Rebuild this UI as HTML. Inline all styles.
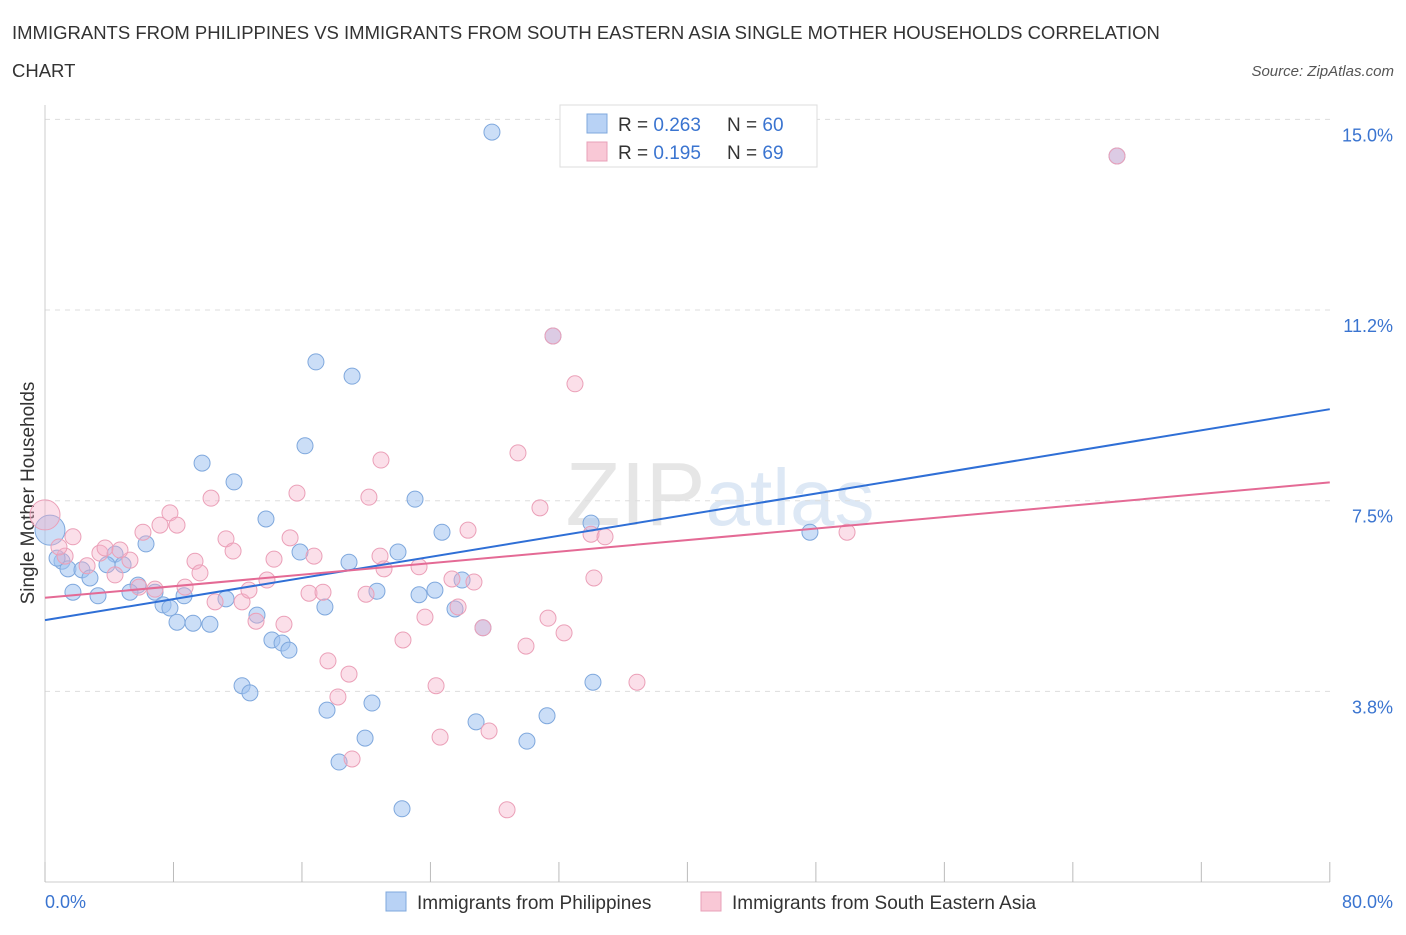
<!DOCTYPE html>
<html><head><meta charset="utf-8"><style>
body{margin:0;background:#fff;font-family:"Liberation Sans",sans-serif;}
svg text{font-family:"Liberation Sans",sans-serif;}
</style></head><body>
<svg width="1406" height="930" viewBox="0 0 1406 930" xmlns="http://www.w3.org/2000/svg">
<text x="12" y="39" font-size="18.5" fill="#333">IMMIGRANTS FROM PHILIPPINES VS IMMIGRANTS FROM SOUTH EASTERN ASIA SINGLE MOTHER HOUSEHOLDS CORRELATION</text>
<text x="12" y="77" font-size="18.5" fill="#333">CHART</text>
<text x="1394" y="76" font-size="15" fill="#555" font-style="italic" text-anchor="end">Source: ZipAtlas.com</text>
<text x="720" y="525" font-size="90" fill="#e6e6e6" text-anchor="middle" font-family="Liberation Serif">ZIP<tspan fill="#dde8f5" font-family="Liberation Sans" font-size="80">atlas</tspan></text>
<g id="grid"></g>
<g id="axes"></g>
<text x="34" y="493" font-size="19" fill="#333" text-anchor="middle" transform="rotate(-90 34 493)">Single Mother Households</text>
<g id="pts"></g>
<g id="trend"></g>
<g>
<rect x="560" y="105" width="257" height="62" fill="#fff" stroke="#ddd"/>
<rect x="587" y="114" width="20" height="19" fill="#b8d2f5" stroke="#7fa8dd"/>
<rect x="587" y="142" width="20" height="19" fill="#f9c8d6" stroke="#e8a0b8"/>
<text x="618" y="131" font-size="19" fill="#333">R = <tspan fill="#3a74d0">0.263</tspan><tspan x="727">N = </tspan><tspan fill="#3a74d0">60</tspan></text>
<text x="618" y="159" font-size="19" fill="#333">R = <tspan fill="#3a74d0"> 0.195</tspan><tspan x="727">N = </tspan><tspan fill="#3a74d0">69</tspan></text>
</g>
<g>
<rect x="386" y="892" width="20" height="19" fill="#b8d2f5" stroke="#7fa8dd"/>
<text x="417" y="909" font-size="19" fill="#333">Immigrants from Philippines</text>
<rect x="701" y="892" width="20" height="19" fill="#f9c8d6" stroke="#e8a0b8"/>
<text x="732" y="909" font-size="19" fill="#333">Immigrants from South Eastern Asia</text>
</g>
</svg>
<script>
const yTicks=[15.0,11.25,7.5,3.75];
const yTickLabels=["15.0%","11.2%","7.5%","3.8%"];
const blueX=[27.83,66.75,31.63,16.87,19.12,16.19,9.78,11.77,23.04,13.76,34.0,24.72,47.63,6.29,4.36,15.88,21.98,18.93,1.06,1.43,2.30,4.86,3.86,2.80,25.97,5.79,20.67,24.28,1.74,3.30,5.29,6.85,8.66,23.29,11.27,7.35,7.78,17.43,25.53,13.20,8.22,9.22,10.27,27.27,14.13,14.76,15.19,12.27,12.76,34.12,17.56,20.36,26.84,31.26,19.93,30.01,18.31,22.23,0.31,0.75];
const blueY=[14.75,14.28,10.74,10.23,9.95,8.58,8.24,7.87,7.53,7.14,7.06,6.88,6.88,6.65,6.45,6.49,6.49,6.29,6.31,6.16,6.14,6.24,6.24,5.98,5.94,5.84,5.72,5.74,5.70,5.63,5.70,5.70,5.63,5.65,5.57,5.45,5.39,5.41,5.37,5.25,5.11,5.09,5.07,5.00,4.76,4.70,4.56,3.86,3.72,3.93,3.38,3.52,3.15,3.27,2.83,2.77,2.36,1.44,6.92,6.37];
const pinkX=[0,1.74,1.25,3.42,5.29,3.74,6.10,7.16,7.78,8.22,10.34,11.27,11.71,9.34,9.65,8.72,6.85,10.59,12.27,12.70,13.82,14.26,15.26,15.69,16.75,16.44,17.31,13.14,14.88,17.62,18.93,18.24,19.12,20.92,20.17,21.11,20.86,19.99,23.29,22.29,23.66,24.35,24.60,26.34,25.34,26.71,25.72,27.27,27.65,28.77,29.45,30.82,31.32,32.32,29.95,33.0,34.0,34.87,34.18,36.86,49.94,31.63,66.75,4.36,2.62,5.85,0.87,4.67];
const pinkY=[7.22,6.79,6.41,6.47,6.33,6.57,6.88,7.02,7.26,7.02,7.55,6.75,6.51,6.31,6.08,5.80,5.76,5.51,5.51,5.74,5.94,6.35,6.77,7.65,6.41,5.68,5.70,5.13,5.07,4.35,4.09,3.64,2.42,8.30,7.57,6.16,6.41,5.66,6.20,4.76,5.21,3.86,2.85,6.92,5.96,5.90,5.41,5.00,2.97,1.42,8.44,7.36,5.19,4.90,4.64,9.80,6.84,6.79,5.98,3.93,6.88,10.74,14.28,6.04,6.22,5.80,6.59,6.53];
const bigBlue=[58]; const bigPink=[0];
const blueTrend=[5.15,9.30]; const pinkTrend=[5.59,7.86];
const xs=v=>45+v*16.06, ys=v=>882-v*50.84;
const NS="http://www.w3.org/2000/svg";
function mk(t,a,p){const e=document.createElementNS(NS,t);for(const k in a)e.setAttribute(k,a[k]);p.appendChild(e);return e;}
const grid=document.getElementById('grid'),axes=document.getElementById('axes');
yTicks.forEach((t,i)=>{
 const l=mk('line',{x1:45,x2:1330,y1:ys(t),y2:ys(t),stroke:'#ddd','stroke-dasharray':'5,5'},grid);
 
 
 const tx=mk('text',{x:1393,y:ys(t)+22,'font-size':18,fill:'#3a74d0','text-anchor':'end'},axes);
 tx.textContent=yTickLabels[i];
 
 
});
const ax=mk('line',{x1:45,x2:45,y1:105,y2:882,stroke:'#ccc'},axes);


const bx=mk('line',{x1:45,x2:1330,y1:882,y2:882,stroke:'#ccc'},axes);


for(let i=0;i<=10;i++){const tk=mk('line',{x1:xs(i*8),x2:xs(i*8),y1:862,y2:882,stroke:'#bbb'},axes);
 
 }
[[45,"0.0%","start"],[1393,"80.0%","end"]].forEach(d=>{const t=mk('text',{x:d[0],y:908,'font-size':18,fill:'#3a74d0','text-anchor':d[2]},axes);t.textContent=d[1];
 
 });
const pts=document.getElementById('pts');
blueX.forEach((v,i)=>{const c=mk('circle',{cx:xs(v),cy:ys(blueY[i]),r:bigBlue.includes(i)?15:8,fill:'rgba(160,195,240,0.55)',stroke:'#7fa8dd','stroke-width':1},pts);
 
 });
pinkX.forEach((v,i)=>{const c=mk('circle',{cx:xs(v),cy:ys(pinkY[i]),r:bigPink.includes(i)?15:8,fill:'rgba(245,175,200,0.4)',stroke:'#eba0b8','stroke-width':1},pts);
 
 });
const tr=document.getElementById('trend');
const l1=mk('line',{x1:xs(0),y1:ys(blueTrend[0]),x2:xs(80),y2:ys(blueTrend[1]),stroke:'#2f6fd6','stroke-width':2},tr);


const l2=mk('line',{x1:xs(0),y1:ys(pinkTrend[0]),x2:xs(80),y2:ys(pinkTrend[1]),stroke:'#e46a95','stroke-width':2},tr);


</script>
</body></html>
